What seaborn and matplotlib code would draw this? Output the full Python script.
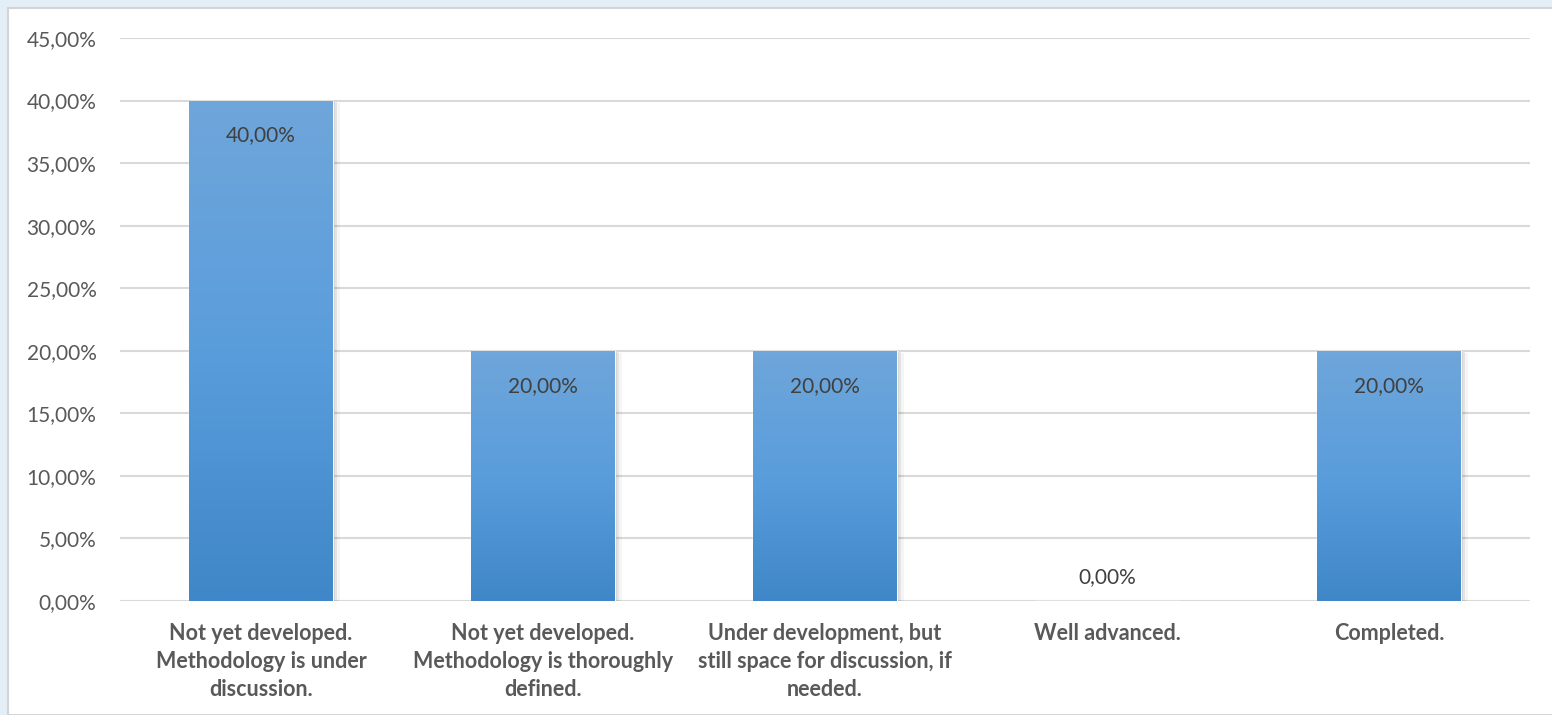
import numpy as np
import pandas as pd
import matplotlib
matplotlib.use("Agg")
import matplotlib.pyplot as plt
import seaborn as sns
from matplotlib.patches import Rectangle
from matplotlib.colors import LinearSegmentedColormap
from matplotlib import font_manager as fm

categories = [
    "Not yet developed.\nMethodology is under\ndiscussion.",
    "Not yet developed.\nMethodology is thoroughly\ndefined.",
    "Under development, but\nstill space for discussion, if\nneeded.",
    "Well advanced.",
    "Completed.",
]
shares = [40.0, 20.0, 20.0, 0.0, 20.0]
y_ticks = [0, 5, 10, 15, 20, 25, 30, 35, 40, 45]

df = pd.DataFrame({"stage": categories, "share": shares})

sns.set_theme(style="white")
plt.rcParams["font.family"] = ["Lato", "DejaVu Sans"]
bold_path = fm.findfont(fm.FontProperties(family="Lato", weight="bold"))
bold_font = fm.FontProperties(fname=bold_path, size=15.5)

W, H = 1552, 715
fig = plt.figure(figsize=(W / 100, H / 100), dpi=100)
fig.patch.set_facecolor("#e3eef7")
# white chart panel with a thin grey frame, kept behind the axes
fig.patches.append(Rectangle((8 / W, 0), 1, 1 - 8 / H, transform=fig.transFigure,
                             facecolor="white", edgecolor="#d4d4d4", linewidth=1.5,
                             zorder=-10))

ax = fig.add_axes([120 / W, 1 - 601 / H, 1410 / W, (601 - 38) / H])
ax.set_facecolor("none")

sns.barplot(data=df, x="stage", y="share", ax=ax, color="#5b9bd5", width=0.51,
            saturation=1, zorder=3)

ax.set_xlabel("")
ax.set_ylabel("")
for s in ax.spines.values():
    s.set_visible(False)
ax.grid(axis="y", color="#d9d9d9", linewidth=1.5, zorder=0)
ax.axhline(0, color="#d9d9d9", linewidth=2, zorder=2)

# vertical gradient fill and soft shadow on each bar
cmap = LinearSegmentedColormap.from_list("barblue", ["#3f87c8", "#5a9ddc", "#6fa6da"])
grad = np.linspace(0, 1, 256).reshape(-1, 1)
for p in list(ax.patches):
    x0, y0 = p.get_x(), p.get_y()
    w, h = p.get_width(), p.get_height()
    if h <= 0:
        continue
    for k, a in enumerate([0.10, 0.07, 0.04]):
        sh = Rectangle((x0 + 0.004 * (k + 1), y0 - 0.06 * (k + 1)), w + 0.004 * (k + 1), h,
                       facecolor="black", alpha=a, edgecolor="none", zorder=2.5)
        ax.add_patch(sh)
    im = ax.imshow(grad, extent=[x0, x0 + w, y0, y0 + h], origin="lower", aspect="auto",
                   cmap=cmap, zorder=3.5)
    im.set_clip_path(p)

# value labels: inside the top of each bar, above the axis for empty bars
for i, v in enumerate(shares):
    txt = f"{v:.2f}".replace(".", ",") + "%"
    y = v - 2.8 if v > 0 else v + 1.9
    ax.text(i, y, txt, ha="center", va="center", fontsize=15,
            color="#404040", zorder=5)

# axes limits and tick labels
ax.set_xlim(-0.5, len(categories) - 0.5)
ax.set_ylim(0, 45)
ax.set_yticks(y_ticks)
ax.set_yticklabels([f"{t:.2f}".replace(".", ",") + "%" for t in y_ticks])
ax.set_xticks(range(len(categories)))
ax.set_xticklabels(categories)
ax.tick_params(axis="x", length=0, pad=16)
ax.tick_params(axis="y", length=0, pad=17)
for lab in ax.get_yticklabels():
    lab.set_fontsize(15)
    lab.set_color("#595959")
for lab in ax.get_xticklabels():
    lab.set_fontproperties(bold_font)
    lab.set_color("#595959")
    lab.set_linespacing(1.4)

fig.savefig("out.png", dpi=100, facecolor=fig.get_facecolor())
